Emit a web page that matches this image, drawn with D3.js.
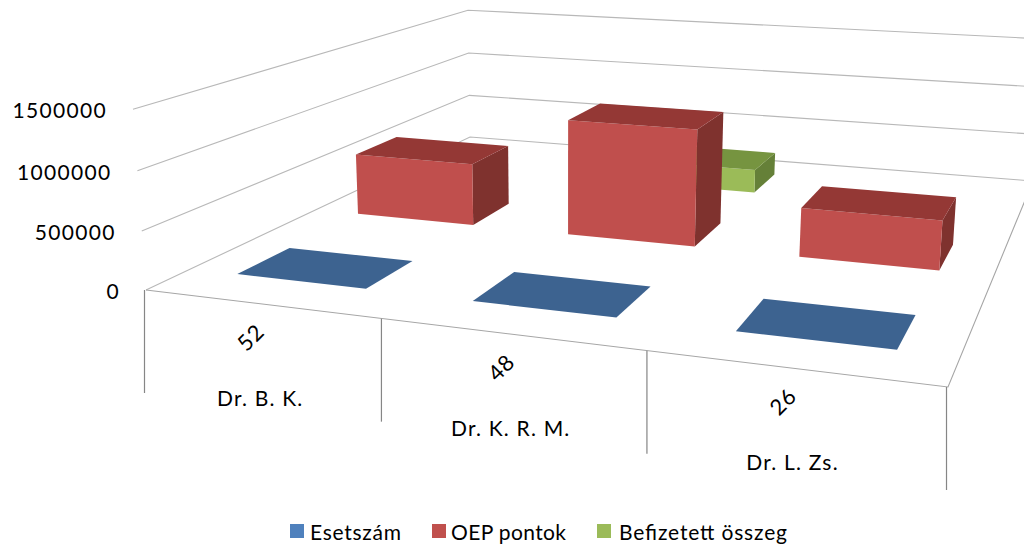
<html>
    <head>
        <title>Esetszam</title>
        <style type="text/css">
            body{
                padding: 0px;
                margin: 0px;
                background: white;
            }
            svg{
                display: block;
                width: 1024px;
                height: 545px;
            }
            text{
                font-family: Lato, "Open Sans", sans-serif;
                fill: #000;
            }
        </style>
        <script src="https://d3js.org/d3.v7.min.js"></script>
        <script type="text/javascript">
            // data
            var categories = ["Dr. B. K.", "Dr. K. R. M.", "Dr. L. Zs."];
            var caseLabels = ["52", "48", "26"];
            var seriesNames = ["Esetszám", "OEP pontok", "Befizetett összeg"];
            var esetszam = [52, 48, 26];
            var oepPontok = [585000, 1070000, 442000];
            var befizetett = [null, 235000, null];
            var yTicks = [0, 500000, 1000000, 1500000];

            var seriesValues = [esetszam, oepPontok, befizetett];
            var frontColors = ["#4f81bd", "#c0504d", "#9bbb59"];
            var topColors = ["#3d6390", "#943735", "#769440"];
            var sideColors = ["#35577f", "#7f302e", "#658037"];

            // scales work in a unit box, the projection puts the box on screen
            var x = d3.scaleBand().domain(d3.range(categories.length)).range([0, 1]).paddingInner(0.44).paddingOuter(0.21);
            var z = d3.scaleBand().domain(d3.range(seriesNames.length)).range([0, 1]).paddingInner(0.6).paddingOuter(0.3);
            var y = d3.scaleLinear().domain([0, 1500000]).range([0, 1]);

            // perspective of the excel 3d box
            function project(u, v, h) {
                var w = 1 - 0.1614 * u + 0.4489 * v - 0.03 * h;
                return [
                    (649 * u + 535 * v - 17 * h + 146) / w,
                    (34.54 * u - 91.5 * v - 184 * h + 290) / w
                ];
            }

            var line = d3.line();

            window.onload = function() {
                var svg = d3.select("body").append("svg").attr("viewBox", "0 0 1024 545");

                var defs = svg.append("defs");
                defs.append("filter").attr("id", "soft").append("feGaussianBlur").attr("stdDeviation", 0.45);

                var chart = svg.append("g").attr("filter", "url(#soft)");

                // walls and floor
                var grid = chart.append("g").attr("fill", "none").attr("stroke", "#b8b8b8").attr("stroke-width", 1.1);
                yTicks.forEach(function(t) {
                    var h = y(t);
                    grid.append("path").attr("d", line([project(0, 0, h), project(0, 1, h), project(1, 1, h)]));
                });
                grid.append("path").attr("d", line([project(0, 0, 0), project(1, 0, 0), project(1, 1, 0)]))
                    .attr("stroke", "#a6a6a6");

                // tick lines under the front edge
                var ticks = d3.range(categories.length + 1);
                chart.append("g").selectAll("line").data(ticks).enter().append("line")
                    .attr("x1", function(d) { return project(d / categories.length, 0, 0)[0] - 1.5; })
                    .attr("x2", function(d) { return project(d / categories.length, 0, 0)[0] - 1.5; })
                    .attr("y1", function(d) { return project(d / categories.length, 0, 0)[1]; })
                    .attr("y2", function(d) { return project(d / categories.length, 0, 0)[1] + 103; })
                    .attr("stroke", "#868686")
                    .attr("stroke-width", 1.2);

                // bars, back series first so the front ones cover them
                var bars = [];
                d3.range(seriesNames.length).reverse().forEach(function(s) {
                    categories.forEach(function(c, i) {
                        if (seriesValues[s][i] != null) bars.push({ s: s, i: i, value: seriesValues[s][i] });
                    });
                });

                var bar = chart.append("g").selectAll("g").data(bars).enter().append("g");
                function face(fill, corners) {
                    bar.append("path")
                        .attr("fill", function(d) { return fill[d.s]; })
                        .attr("d", function(d) { return line(corners(d).map(function(p) { return project(p[0], p[1], p[2]); })) + "Z"; });
                }
                function u0(d) { return x(d.i); }
                function u1(d) { return x(d.i) + x.bandwidth(); }
                function v0(d) { return z(d.s); }
                function v1(d) { return z(d.s) + z.bandwidth(); }
                function h1(d) { return y(d.value); }

                face(sideColors, function(d) {
                    return [[u1(d), v0(d), 0], [u1(d), v1(d), 0], [u1(d), v1(d), h1(d)], [u1(d), v0(d), h1(d)]];
                });
                face(frontColors, function(d) {
                    return [[u0(d), v0(d), 0], [u1(d), v0(d), 0], [u1(d), v0(d), h1(d)], [u0(d), v0(d), h1(d)]];
                });
                face(topColors, function(d) {
                    return [[u0(d), v0(d), h1(d)], [u1(d), v0(d), h1(d)], [u1(d), v1(d), h1(d)], [u0(d), v1(d), h1(d)]];
                });

                // value axis labels
                var labels = svg.append("g");
                labels.selectAll("text.ytick").data(yTicks).enter().append("text")
                    .attr("class", "ytick")
                    .attr("text-anchor", "end")
                    .attr("font-size", 21)
                    .attr("letter-spacing", 1.3)
                    .attr("x", function(d) { return project(0, 0, y(d))[0] - 26; })
                    .attr("y", function(d) { return project(0, 0, y(d))[1] + 9; })
                    .text(function(d) { return d; });

                // two level category axis
                function middle(i) { return project((i + 0.5) / categories.length, 0, 0); }
                labels.selectAll("text.cat").data(categories).enter().append("text")
                    .attr("class", "cat")
                    .attr("text-anchor", "middle")
                    .attr("font-size", 21)
                    .attr("letter-spacing", 1.2)
                    .attr("x", function(d, i) { return middle(i)[0] - 1; })
                    .attr("y", function(d, i) { return middle(i)[1] + 102; })
                    .text(function(d) { return d; });
                labels.selectAll("text.case").data(caseLabels).enter().append("text")
                    .attr("class", "case")
                    .attr("text-anchor", "middle")
                    .attr("font-size", 22)
                    .attr("letter-spacing", 0.8)
                    .attr("transform", function(d, i) {
                        var m = middle(i);
                        return "translate(" + (m[0] - 10) + "," + (m[1] + 34) + ") rotate(-45) translate(0,7)";
                    })
                    .text(function(d) { return d; });

                // legend
                var legendSwatch = [290, 432, 597];
                var legendText = [310, 451, 619];
                var legendWidth = [91, 115, 168];
                var legend = labels.selectAll("g.legend").data(seriesNames).enter().append("g").attr("class", "legend");
                legend.append("rect")
                    .attr("x", function(d, i) { return legendSwatch[i]; })
                    .attr("y", 524)
                    .attr("width", 14)
                    .attr("height", 14)
                    .attr("fill", function(d, i) { return frontColors[i]; });
                legend.append("text")
                    .attr("font-size", 21)
                    .attr("x", function(d, i) { return legendText[i]; })
                    .attr("y", 540)
                    .attr("textLength", function(d, i) { return legendWidth[i]; })
                    .attr("lengthAdjust", "spacing")
                    .text(function(d) { return d; });
            };
        </script>
    </head>
    <body>
    </body>
</html>
